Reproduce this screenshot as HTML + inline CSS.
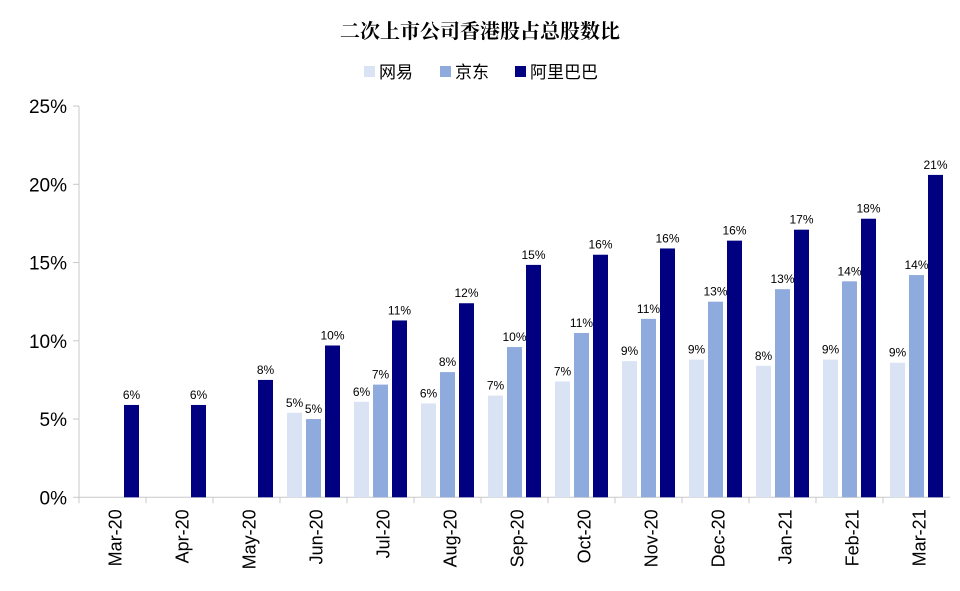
<!DOCTYPE html>
<html><head><meta charset="utf-8"><style>
body{margin:0;background:#fff;}
svg text{font-family:"Liberation Sans","Noto Sans CJK SC",sans-serif;}
</style></head><body>
<svg id="chart" width="960" height="586">
<text x="480" y="38" text-anchor="middle" font-size="20" font-weight="bold" fill="#000" style="font-family:'Noto Serif CJK SC','Noto Sans CJK SC',serif">二次上市公司香港股占总股数比</text>
<g id="legend"></g>
<g id="axes"></g><g id="bars"></g>
</svg>
<script>
const categories=["Mar-20","Apr-20","May-20","Jun-20","Jul-20","Aug-20","Sep-20","Oct-20","Nov-20","Dec-20","Jan-21","Feb-21","Mar-21"];
const seriesNames=["网易","京东","阿里巴巴"];
const netease=[null,null,null,5.4,6.1,6.0,6.5,7.4,8.7,8.8,8.4,8.8,8.6];
const jd=[null,null,null,5.0,7.2,8.0,9.6,10.5,11.4,12.5,13.3,13.8,14.2];
const alibaba=[5.9,5.9,7.5,9.7,11.3,12.4,14.85,15.5,15.9,16.4,17.1,17.8,20.6];
const yTicks=[0,5,10,15,20,25];
const colors=["#dae3f3","#8faadc","#000080"];
const NS="http://www.w3.org/2000/svg";
const x0=79,catW=67,y0=497.3,pxPer=15.65;
const yScale=v=>y0-v*pxPer;
const xCat=i=>x0+i*catW;
function mk(t,a,p){const e=document.createElementNS(NS,t);for(const k in a)e.setAttribute(k,a[k]);p.appendChild(e);return e;}
const axes=document.getElementById('axes'),bars=document.getElementById('bars'),legend=document.getElementById('legend');
let l=mk('line',{x1:x0,y1:yScale(25),x2:x0,y2:y0,stroke:'#c8c8c8'},axes);


l=mk('line',{x1:x0,y1:y0,x2:x0+13*catW,y2:y0,stroke:'#c8c8c8'},axes);


yTicks.forEach(v=>{
 mk('line',{x1:x0-6,x2:x0,y1:yScale(v),y2:yScale(v),stroke:'#c8c8c8'},axes);
 const t=mk('text',{x:x0-12,y:yScale(v)+7,'text-anchor':'end','font-size':19,fill:'#000'},axes);
 t.textContent=v+'%';
 
 
});
categories.forEach((c,i)=>{
 mk('line',{x1:xCat(i),x2:xCat(i),y1:y0,y2:y0+6,stroke:'#c8c8c8'},axes);
 const cx=xCat(i)+catW/2+9;
 const t=mk('text',{x:0,y:0,'text-anchor':'end','font-size':18,fill:'#000',transform:`translate(${cx},${y0+12}) rotate(-90)`},axes);
 t.textContent=c;
 
 
});
[netease,jd,alibaba].forEach((arr,s)=>{
 arr.forEach((v,i)=>{
  if(v==null)return;
  const bx=xCat(i)+7+s*19;
  const r=mk('rect',{x:bx,y:yScale(v),width:15,height:y0-yScale(v),fill:colors[s]},bars);
  
  
  const t=mk('text',{x:bx+7.5,y:yScale(v)-6,'text-anchor':'middle','font-size':12,fill:'#000'},bars);
  t.textContent=Math.round(v)+'%';
  
  
 });
});
const lx=[364,440,515];
seriesNames.forEach((n,s)=>{
 const r=mk('rect',{x:lx[s],y:66,width:11,height:11,fill:colors[s]},legend);
 
 
 const t=mk('text',{x:lx[s]+15,y:78,'font-size':17,fill:'#000'},legend);
 t.textContent=n;
 
 
});
</script>
</body></html>
